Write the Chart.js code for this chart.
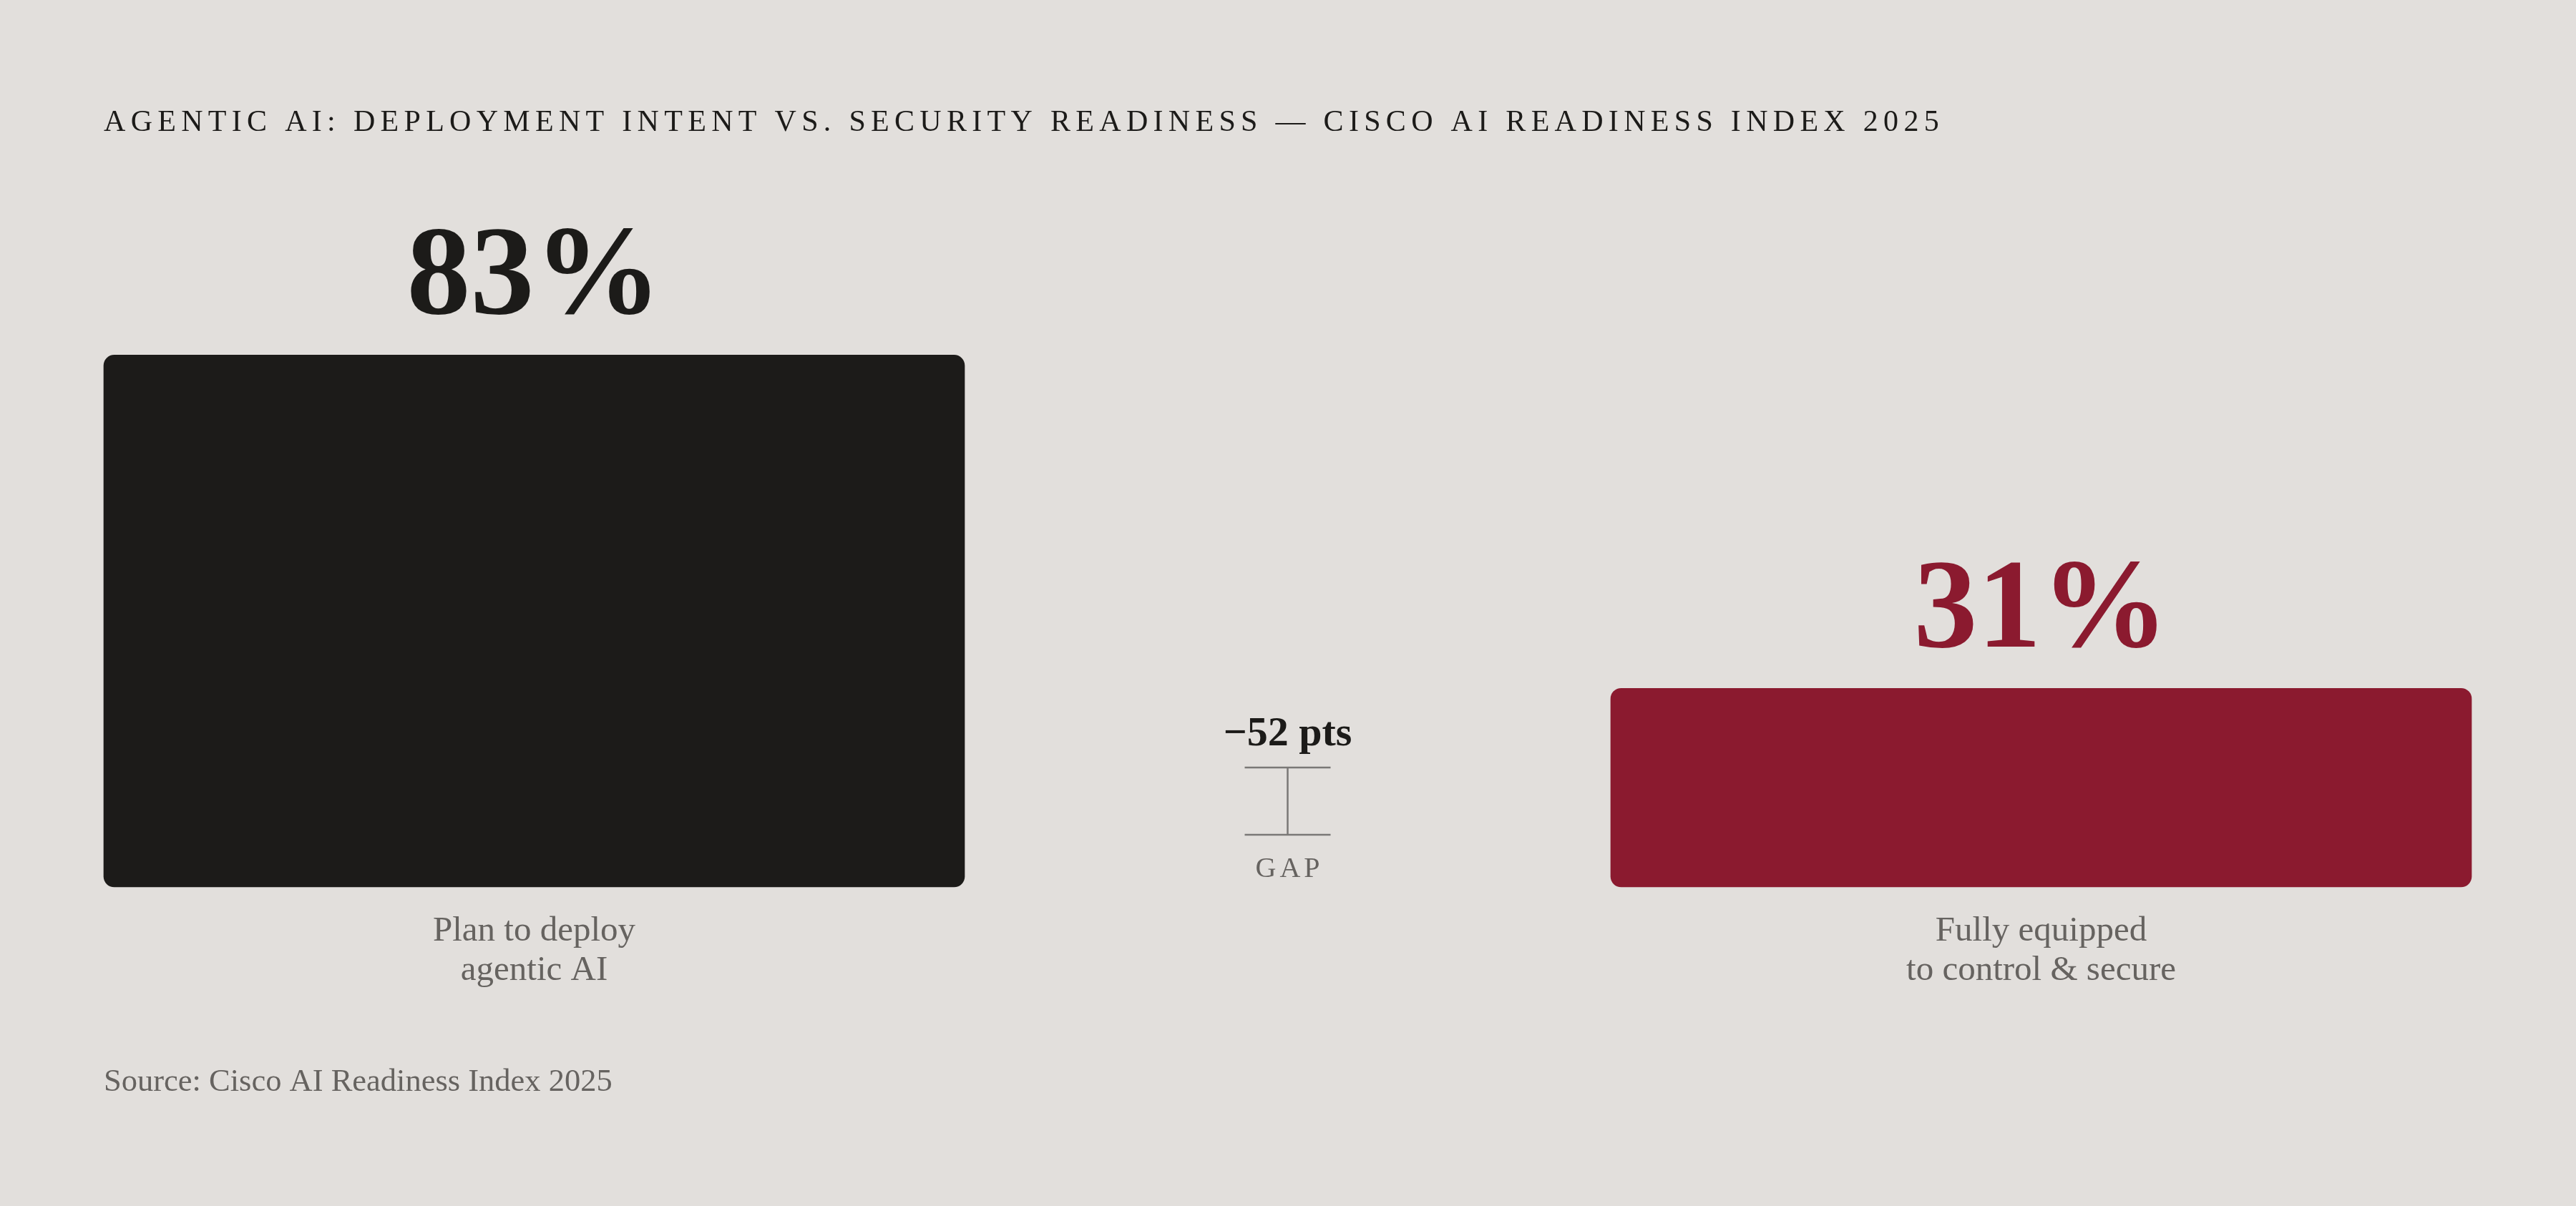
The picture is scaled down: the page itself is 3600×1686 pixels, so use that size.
<!DOCTYPE html>
<html><head><meta charset="utf-8">
<script src="https://cdn.jsdelivr.net/npm/chart.js@4.4.1/dist/chart.umd.min.js"></script>
<style>
html,body{margin:0;padding:0;background:#E2DFDC;}
#wrap{position:relative;width:3600px;height:1686px;}
</style></head>
<body><div id="wrap"><canvas id="c" width="3600" height="1686"></canvas></div>
<script>
const titleText = "AGENTIC AI: DEPLOYMENT INTENT VS. SECURITY READINESS — CISCO AI READINESS INDEX 2025";
const sourceText = "Source: Cisco AI Readiness Index 2025";
const categories = [["Plan to deploy", "agentic AI"], "", ["Fully equipped", "to control & secure"]];
const values = [83, null, 31];
const barColors = ["#1C1B19", "rgba(0,0,0,0)", "#8B1A2F"];
const gapCaption = "GAP";

const BG = "#E2DFDC";
const GREY = "#666360";
const SERIF = "'Liberation Serif', 'Times New Roman', serif";

const overlay = {
  id: 'overlay',
  beforeDraw(chart) {
    const ctx = chart.ctx;
    ctx.save();
    ctx.fillStyle = BG;
    ctx.fillRect(0, 0, chart.width, chart.height);
    ctx.restore();
  },
  afterDatasetsDraw(chart) {
    const ctx = chart.ctx;
    const area = chart.chartArea;
    const meta = chart.getDatasetMeta(0);
    ctx.save();
    // title
    ctx.fillStyle = "#1C1B19";
    ctx.font = "400 42px " + SERIF;
    ctx.textAlign = "left";
    ctx.textBaseline = "alphabetic";
    ctx.letterSpacing = "7.3px";
    ctx.fillText(titleText, 145, 183);
    // source
    ctx.letterSpacing = "0px";
    ctx.fillStyle = GREY;
    ctx.font = "400 44.5px " + SERIF;
    ctx.fillText(sourceText, 145, 1525);
    // value labels
    ctx.textAlign = "center";
    meta.data.forEach((bar, i) => {
      const v = values[i];
      if (v === null || v === undefined) return;
      ctx.fillStyle = barColors[i];
      ctx.font = "700 178px " + SERIF;
      ctx.fillText(v + "%", bar.x, bar.y - 58);
    });
    // gap annotation
    const xs = chart.scales.x;
    const gx = xs.getPixelForValue(1);
    const gap = values[2] - values[0];
    const b = area.bottom;
    ctx.fillStyle = "#1C1B19";
    ctx.font = "700 58px " + SERIF;
    ctx.fillText("\u2212" + Math.abs(gap) + " pts", gx, b - 198);
    ctx.strokeStyle = "#7A7876";
    ctx.lineWidth = 2.5;
    ctx.beginPath();
    ctx.moveTo(gx - 60, b - 167); ctx.lineTo(gx + 60, b - 167);
    ctx.moveTo(gx - 60, b - 73); ctx.lineTo(gx + 60, b - 73);
    ctx.moveTo(gx, b - 167); ctx.lineTo(gx, b - 73);
    ctx.stroke();
    ctx.fillStyle = GREY;
    ctx.font = "400 40px " + SERIF;
    ctx.letterSpacing = "5px";
    ctx.fillText(gapCaption, gx + 2.5, b - 14);
    ctx.restore();
  }
};

new Chart(document.getElementById('c'), {
  type: 'bar',
  data: {
    labels: categories,
    datasets: [{
      data: values,
      backgroundColor: barColors,
      borderRadius: 15,
      borderSkipped: false,
      barThickness: 1203,
      clip: false
    }]
  },
  options: {
    responsive: false,
    animation: false,
    devicePixelRatio: 1,
    layout: { padding: { left: 220, right: 221, top: 344, bottom: 146 } },
    plugins: { legend: { display: false }, tooltip: { enabled: false }, title: { display: false } },
    scales: {
      y: { display: false, min: 0, max: 100 },
      x: {
        grid: { display: false, drawTicks: false },
        border: { display: false },
        ticks: {
          color: GREY,
          padding: 35,
          font: { family: SERIF, size: 49, lineHeight: 1.12 }
        },
        afterFit(scale) { scale.height = 300; }
      }
    }
  },
  plugins: [overlay]
});
</script></body></html>
